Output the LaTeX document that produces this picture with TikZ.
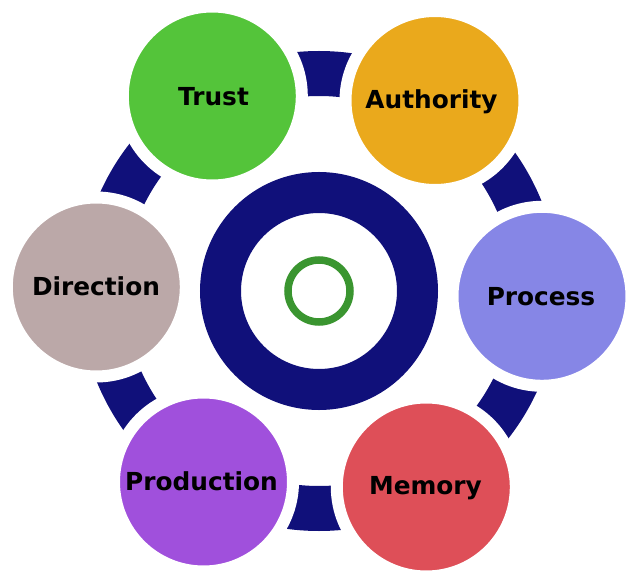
\documentclass[tikz,border=0pt]{standalone}
\usepackage{fontspec}
\setmainfont{DejaVu Sans}
\definecolor{ringblue}{HTML}{10107A}
\definecolor{ringgreen}{HTML}{3A9530}
\definecolor{ctrust}{HTML}{54C43A}
\definecolor{cauthority}{HTML}{EAA91C}
\definecolor{cprocess}{HTML}{8686E6}
\definecolor{cmemory}{HTML}{DE4F58}
\definecolor{cproduction}{HTML}{A050DC}
\definecolor{cdirection}{HTML}{BBA8A8}
\begin{document}
\begin{tikzpicture}[x=1pt,y=-1pt,disc/.style={circle,draw=white,line width=12pt,minimum size=179pt,inner sep=0pt},
    ringline/.style={circle,inner sep=0pt},
    lbl/.style={font=\bfseries\fontsize{24.8}{28}\selectfont,text=black,inner sep=0pt}]
    \useasboundingbox (0,0) rectangle (638,583);
    \node[ringline,draw=ringblue,line width=45pt,minimum size=435pt] (outer) at (319,291) {};
    \node[ringline,draw=ringblue,line width=41pt,minimum size=197pt] (inner) at (319,291) {};
    \node[ringline,draw=ringgreen,line width=7.5pt,minimum size=62pt] (core) at (319,291) {};
    \node[disc,fill=ctrust] (trust) at (212.3,96) {};
    \node[disc,fill=cauthority] (authority) at (435,100.5) {};
    \node[disc,fill=cprocess] (process) at (542,296.3) {};
    \node[disc,fill=cmemory] (memory) at (426.3,487) {};
    \node[disc,fill=cproduction] (production) at (203.5,482) {};
    \node[disc,fill=cdirection] (direction) at (96.3,287) {};
    \node[lbl] (ltrust) at (213.5,97) {Trust};
    \node[lbl] (lauthority) at (431.5,102) {Authority};
    \node[lbl] (lprocess) at (541,297) {Process};
    \node[lbl] (lmemory) at (425.5,488) {Memory};
    \node[lbl] (lproduction) at (201.5,481) {Production};
    \node[lbl] (ldirection) at (96,286.5) {Direction};
\end{tikzpicture}
\end{document}
